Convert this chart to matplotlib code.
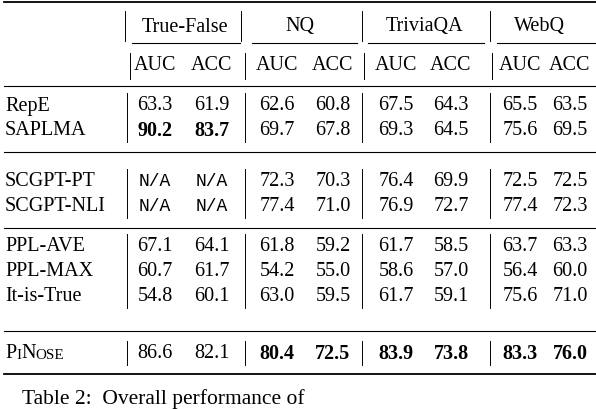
import matplotlib.pyplot as plt

methods = ["RepE", "SAPLMA", "SCGPT-PT", "SCGPT-NLI", "PPL-AVE", "PPL-MAX", "It-is-True", "PiNose"]
datasets = ["True-False", "NQ", "TriviaQA", "WebQ"]
values = [
    ["63.3", "61.9", "62.6", "60.8", "67.5", "64.3", "65.5", "63.5"],
    ["90.2", "83.7", "69.7", "67.8", "69.3", "64.5", "75.6", "69.5"],
    ["N/A", "N/A", "72.3", "70.3", "76.4", "69.9", "72.5", "72.5"],
    ["N/A", "N/A", "77.4", "71.0", "76.9", "72.7", "77.4", "72.3"],
    ["67.1", "64.1", "61.8", "59.2", "61.7", "58.5", "63.7", "63.3"],
    ["60.7", "61.7", "54.2", "55.0", "58.6", "57.0", "56.4", "60.0"],
    ["54.8", "60.1", "63.0", "59.5", "61.7", "59.1", "75.6", "71.0"],
    ["86.6", "82.1", "80.4", "72.5", "83.9", "73.8", "83.3", "76.0"],
]
bold = {(1, 0), (1, 1), (7, 2), (7, 3), (7, 4), (7, 5), (7, 6), (7, 7)}

row_y = [106, 131, 182, 207, 247, 272, 297, 354]
col_x = [155, 212, 277, 333, 396, 451, 520, 570]
ds_x = [185, 300, 425, 540]
head_bars = [125, 241, 362, 490]
sub_bars = [130, 245, 364, 492]
bars = [127, 245, 362, 490]
mid_rules = [(132, 240), (252, 357), (368, 484), (497, 596)]

fig = plt.figure(figsize=(5.96, 4.10), dpi=100)
ax = fig.add_axes([0, 0, 1, 1])
ax.set_xlim(0, 596)
ax.set_ylim(410, 0)
ax.axis("off")

serif = "Liberation Serif"
fs = 14.5

def t(x, y, s, ha="center", **kw):
    kw.setdefault("family", serif)
    kw.setdefault("fontsize", fs)
    ax.text(x, y, s, ha=ha, va="center", **kw)

# rules
ax.plot([4, 596], [3, 3], color="black", lw=1.3)
ax.plot([4, 596], [87, 87], color="black", lw=0.8)
ax.plot([4, 596], [153, 153], color="black", lw=0.8)
ax.plot([4, 596], [229, 229], color="black", lw=0.8)
ax.plot([4, 596], [332, 332], color="black", lw=0.8)
ax.plot([4, 596], [375, 375], color="black", lw=1.3)
for a, b in mid_rules:
    ax.plot([a, b], [44, 44], color="black", lw=0.8)

# header
for x, d in zip(ds_x, datasets):
    t(x, 27, d)
for i, x in enumerate(col_x):
    t(x, 66, "AUC" if i % 2 == 0 else "ACC")
for bx in head_bars:
    ax.plot([bx, bx], [12, 42], color="black", lw=0.7)
for bx in sub_bars:
    ax.plot([bx, bx], [54, 80], color="black", lw=0.7)

# data rows
for r, (m, y) in enumerate(zip(methods, row_y)):
    if m == "PiNose":
        x0 = 5
        for piece, size in [("P", fs), ("I", fs * 0.75), ("N", fs), ("OSE", fs * 0.75)]:
            txt = ax.text(x0, y + (1.5 if size < fs else 0), piece, ha="left", va="center",
                          family=serif, fontsize=size)
            fig.canvas.draw()
            x0 += txt.get_window_extent().width
    else:
        t(5, y, m, ha="left")
    for c, v in enumerate(values[r]):
        if v == "N/A":
            t(col_x[c], y, v, family="Liberation Mono", fontsize=fs - 1.5)
        else:
            t(col_x[c], y, v, fontweight="bold" if (r, c) in bold else "normal")
    for bx in bars:
        ax.plot([bx, bx], [y - 12, y + 12], color="black", lw=0.7)

t(22, 399, "Table 2:  Overall performance of", ha="left", fontsize=fs + 1)

fig.savefig("out.png", dpi=100)
